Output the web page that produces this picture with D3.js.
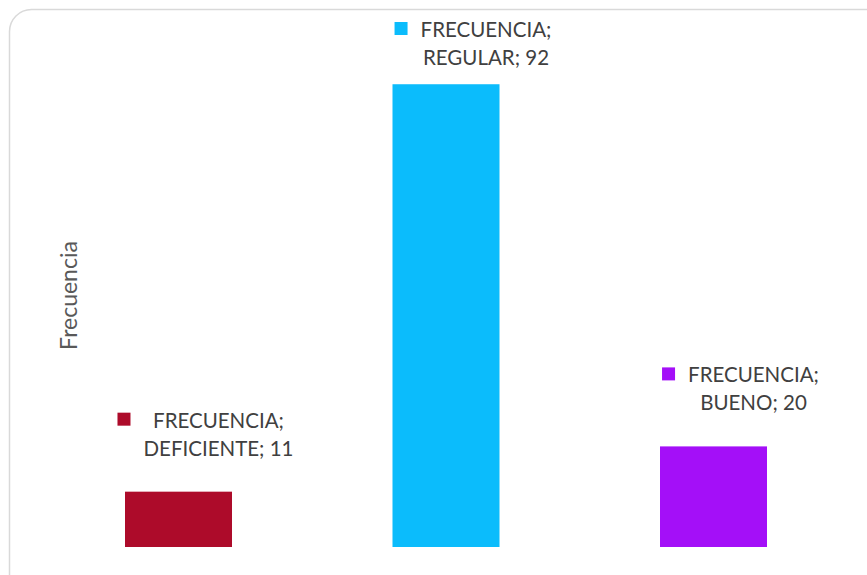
<!DOCTYPE html>
<html>
<head>
<meta charset="utf-8">
<script src="https://cdn.jsdelivr.net/npm/d3@7"></script>
<style>
  body { margin: 0; background: #fff; }
</style>
</head>
<body>
<svg id="chart" width="867" height="575"></svg>
<script>
// data
let categories = ["DEFICIENTE", "REGULAR", "BUENO"];
let values = [11, 92, 20];
let seriesName = "FRECUENCIA";
let colors = ["#ad0b2a", "#0bbcfc", "#a40ff8"];
let axisTitle = "Frecuencia";

let svg = d3.select("#chart");
let width = +svg.attr("width");
let height = +svg.attr("height");
let textColor = "#404040";
let fontFamily = "Lato, 'Open Sans', sans-serif";

// outer chart border (runs off the right/bottom edge)
svg.append("rect")
    .attr("x", 9.5)
    .attr("y", 9.5)
    .attr("width", 880)
    .attr("height", 590)
    .attr("rx", 22)
    .attr("fill", "#fff")
    .attr("stroke", "#d9d9d9")
    .attr("stroke-width", 1.5);

// scales
let plot = { left: 44.75, right: 847.25, top: 44, bottom: 547 };

let xScale = d3.scaleBand()
    .domain(categories)
    .range([plot.left, plot.right])
    .paddingInner(0.6)
    .paddingOuter(0.3);

let yScale = d3.scaleLinear()
    .domain([0, 100])
    .range([plot.bottom, plot.top]);

// bars
svg.selectAll("rect.bar")
    .data(categories)
    .enter()
    .append("rect")
    .attr("class", "bar")
    .attr("x", d => xScale(d))
    .attr("y", (d, i) => yScale(values[i]))
    .attr("width", xScale.bandwidth())
    .attr("height", (d, i) => yScale(0) - yScale(values[i]))
    .attr("fill", (d, i) => colors[i]);

// axis title
svg.append("text")
    .attr("transform", "translate(77," + ((plot.top + plot.bottom) / 2) + ") rotate(-90)")
    .style("text-anchor", "middle")
    .style("font-family", fontFamily)
    .style("font-size", "23px")
    .style("fill", "#595959")
    .text(axisTitle);

// data labels: key square + two centered lines
let lineGap = 28;
let keySize = 13;
categories.forEach(function(d, i) {
    let g = svg.append("g");
    let cx = xScale(d) + xScale.bandwidth() / 2 + 27;
    let base2 = Math.max(yScale(values[i]) - 36, 65);
    let lines = [seriesName + ";", d + "; " + values[i]];

    let texts = lines.map((t, j) => g.append("text")
        .attr("y", base2 - lineGap * (1 - j))
        .style("text-anchor", "middle")
        .style("font-family", fontFamily)
        .style("font-size", "20.5px")
        .style("fill", textColor)
        .text(t));

    let blockW = d3.max(texts, t => t.node().getComputedTextLength());
    let total = keySize + 13 + blockW;
    let left = cx - total / 2;
    let textCx = left + keySize + 13 + blockW / 2;
    texts.forEach(t => t.attr("x", textCx));

    g.append("rect")
        .attr("x", left)
        .attr("y", base2 - lineGap - 15)
        .attr("width", keySize)
        .attr("height", keySize)
        .attr("fill", colors[i]);
});
</script>
</body>
</html>
